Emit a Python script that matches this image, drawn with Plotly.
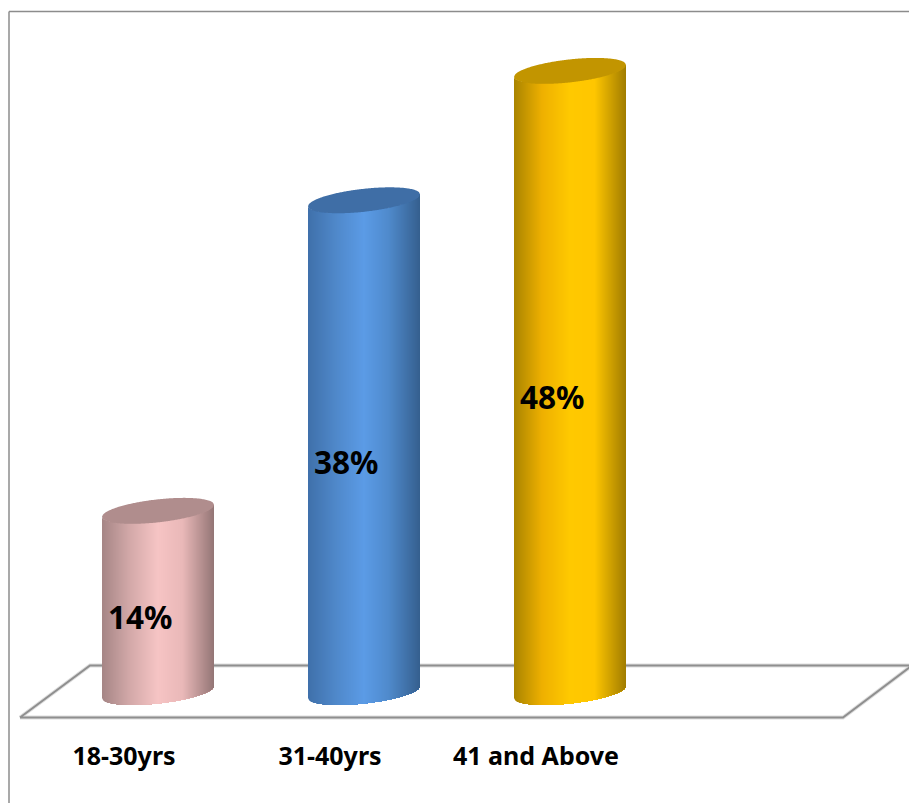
import numpy as np
import plotly.graph_objects as go

# Share of respondents by age band
categories = ["18-30yrs", "31-40yrs", "41 and Above"]
values = [14, 38, 48]

# Side shading (position across the cylinder, colour) and cap colour per band
side_stops = [0.0, 0.25, 0.5, 0.72, 1.0]
side_colors = [
    ["#a58585", "#d3a9a9", "#f6c4c4", "#e9b8b8", "#937575"],
    ["#3f70aa", "#4f88ca", "#5b9be6", "#4f8acc", "#355f8e"],
    ["#a98400", "#eeb000", "#ffc900", "#ffc600", "#a07c00"],
]
cap_colors = ["#b08d8d", "#3f6ea6", "#c29500"]
label_font = "Noto Sans"

# Canvas and scale
W, H = 909, 803
PX_PER_X = 206.0
PX_PER_Y = 12.94
X0_PX, Y0_PX = 158.0, 692.0
x_range = [-X0_PX / PX_PER_X, (W - X0_PX) / PX_PER_X]
y_range = [-(H - Y0_PX) / PX_PER_Y, Y0_PX / PX_PER_Y]

# Cylinder cross-section, in axis units
half_w = 56.0 / PX_PER_X
minor = 11.5 / PX_PER_Y
tilt = 6.0 / PX_PER_Y
STRIPS = 112


def hex_rgb(c):
    return np.array([int(c[i:i + 2], 16) for i in (1, 3, 5)], dtype=float)


def shade(stops, colors, t):
    rgb = [np.interp(t, stops, [hex_rgb(c)[k] for c in colors]) for k in range(3)]
    return "rgb(%d,%d,%d)" % tuple(round(v) for v in rgb)


def lower_rim(u):
    return tilt * u - minor * np.sqrt(np.clip(1 - u ** 2, 0, 1))


def upper_rim(u):
    return tilt * u + minor * np.sqrt(np.clip(1 - u ** 2, 0, 1))


fig = go.Figure()

# Floor of the chart: soft halo under a grey outline
floor_x = np.array([20, 90, 912, 843, 20], dtype=float)
floor_y = np.array([717.5, 665.5, 665.5, 717.5, 717.5], dtype=float)
floor_x = (floor_x - X0_PX) / PX_PER_X
floor_y = (Y0_PX - floor_y) / PX_PER_Y
for colour, width in (("#dedede", 4), ("#8f8f8f", 2)):
    fig.add_trace(go.Scatter(x=floor_x, y=floor_y, mode="lines",
                             line=dict(color=colour, width=width),
                             hoverinfo="skip", showlegend=False))

# Each cylinder is painted left to right: every layer runs from its own left
# edge to the far side, so the next layer leaves no seam behind it
edges = np.linspace(-1, 1, STRIPS + 1)
for i, v in enumerate(values):
    for k, a in enumerate(edges[:-1]):
        us = np.linspace(a, 1, max(3, STRIPS - k + 1))
        xs = np.concatenate([i + half_w * us, i + half_w * us[::-1]])
        ys = np.concatenate([v + lower_rim(us), lower_rim(us[::-1])])
        col = shade(side_stops, side_colors[i], (k + 0.5) / STRIPS)
        fig.add_trace(go.Scatter(x=xs, y=ys, mode="none", fill="toself",
                                 fillcolor=col,
                                 hoverinfo="skip", showlegend=False))
    us = np.linspace(-1, 1, 121)
    xs = np.concatenate([i + half_w * us, i + half_w * us[::-1]])
    ys = np.concatenate([v + upper_rim(us), v + lower_rim(us[::-1])])
    fig.add_trace(go.Scatter(x=xs, y=ys, mode="none", fill="toself",
                             fillcolor=cap_colors[i],
                             hoverinfo="skip", showlegend=False))

# Value labels sit in the middle of each cylinder, left of its axis
for i, v in enumerate(values):
    fig.add_annotation(x=i, y=v / 2, text=f"{v}%", showarrow=False,
                       xshift=-18, yshift=-15,
                       font=dict(family=label_font, size=31.5, color="#000000", weight=700))

frame = dict(type="line", xref="paper", yref="paper",
             line=dict(color="#8c8c8c", width=1.5))

fig.update_layout(
    width=W, height=H,
    margin=dict(l=0, r=0, t=0, b=0),
    paper_bgcolor="#ffffff", plot_bgcolor="#ffffff",
    showlegend=False,
    xaxis=dict(range=x_range, showgrid=False, zeroline=False, showline=False,
               anchor="free", position=64 / H, ticks="",
               tickmode="array",
               tickvals=[i - 34 / PX_PER_X for i in range(len(categories))],
               ticktext=categories,
               tickfont=dict(family=label_font, size=25, color="#000000", weight=700)),
    yaxis=dict(range=y_range, showgrid=False, zeroline=False, showline=False,
               showticklabels=False, ticks=""),
    shapes=[
        dict(frame, x0=9 / W, x1=9 / W, y0=0, y1=1 - 11.5 / H),
        dict(frame, x0=9 / W, x1=1, y0=1 - 11.5 / H, y1=1 - 11.5 / H),
    ],
)

fig.write_html("out.html")
